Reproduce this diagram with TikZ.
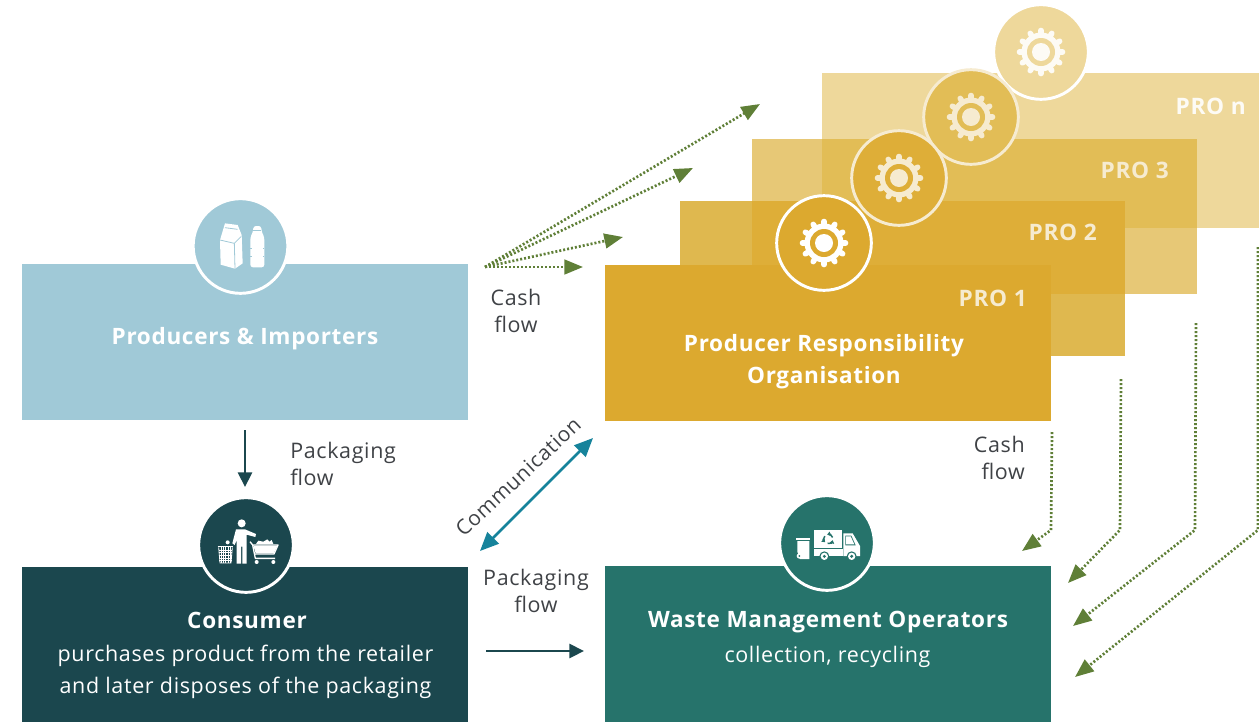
\documentclass[tikz,border=0pt]{standalone}
\usepackage{fontspec}
\setmainfont{Open Sans}[LetterSpace=3]
\usetikzlibrary{arrows.meta}
\definecolor{proc}{HTML}{DCA92F}
\definecolor{prod}{HTML}{A0C9D7}
\definecolor{cons}{HTML}{1B474E}
\definecolor{wast}{HTML}{26736B}
\definecolor{cash}{HTML}{5F7F37}
\definecolor{comm}{HTML}{16839B}
\definecolor{lab}{HTML}{3F4246}
\definecolor{cream}{HTML}{F6EBD0}
\definecolor{pn}{HTML}{EED89B}
\definecolor{pthreew}{HTML}{E7C876}
\definecolor{pthreen}{HTML}{E2BD56}
\definecolor{ptwow}{HTML}{DFB84F}
\definecolor{ptwot}{HTML}{DEAE38}
\tikzset{
 x=.75pt,y=-.75pt,
 box/.style={anchor=north west,inner sep=0,outer sep=0},
 badge/.style={circle,inner sep=0,minimum size=71pt,draw=white,line width=2.2pt},
 cashflow/.style={draw=cash,line width=2pt,dash pattern=on 1.5pt off 1.5pt,-{Triangle[length=14pt,width=11pt]}},
 goods/.style={draw=cons,line width=2.2pt,-{Triangle[length=11pt,width=10.5pt]}},
 commflow/.style={draw=comm,line width=2pt,{Triangle[length=14pt,width=12pt]}-{Triangle[length=14pt,width=12pt]}},
 lbl/.style={text=lab,font=\fontsize{16.1}{20.25}\selectfont,inner sep=0,align=center},
 boxtitle/.style={text=white,font=\fontsize{16.9}{24}\selectfont\bfseries,inner sep=0,align=center},
 boxsub/.style={text=white,font=\fontsize{16.1}{24}\selectfont,inner sep=0,align=center},
 protag/.style={font=\fontsize{17}{20}\selectfont\bfseries,inner sep=0,anchor=east},
}
\newcommand{\rct}[5]{\node[box,fill=#5,minimum width=#3*.75pt,minimum height=#4*.75pt] (#1) at #2 {};}
\newcommand{\geargly}[3]{%
 \begin{scope}[shift={#1}]
 \foreach \a in {0,30,...,330}{\draw[#2,line width=4.2pt,line cap=round] (\a:15) -- (\a:21.5);}
 \fill[#2] (0,0) circle[radius=19.5];
 \fill[#3] (0,0) circle[radius=14];
 \fill[#2] (0,0) circle[radius=9];
 \end{scope}}
\begin{document}
\begin{tikzpicture}
\useasboundingbox (0,0) rectangle (1259,722);
% PRO stack
\rct{pron}{(822,73)}{437}{155}{pn}
\rct{prothree}{(752,139)}{445}{155}{pthreew}
\rct{prothreeov}{(822,139)}{375}{89}{pthreen}
\rct{protwo}{(680,201)}{445}{155}{ptwow}
\rct{protwoov}{(752,201)}{373}{93}{ptwot}
\rct{proone}{(605,265)}{446}{156}{proc}
% other boxes
\rct{prodbox}{(22,264)}{446}{156}{prod}
\rct{consbox}{(22,567)}{446}{155}{cons}
\rct{wastebox}{(605,566)}{446}{156}{wast}
% PRO badges
\node[badge,fill=pn,draw=white] (bn) at (1041,52) {};
\node[badge,fill=pthreen,draw=cream] (b3) at (971,117) {};
\node[badge,fill=ptwot,draw=cream] (b2) at (899,178) {};
\node[badge,fill=proc,draw=white] (b1) at (824,243) {};
\geargly{(bn)}{white!95!proc}{pn}
\geargly{(b3)}{cream}{pthreen}
\geargly{(b2)}{cream}{ptwot}
\geargly{(b1)}{white}{proc}
% other badges
\node[badge,fill=prod] (bprod) at (240.5,246) {};
\node[badge,fill=cons] (bcons) at (246,545) {};
\node[badge,fill=wast] (bwaste) at (827,543) {};
% carton and bottle
\begin{scope}[shift={(170,190)},x=.25pt,y=-.25pt]
 \fill[white] (165,100) -- (203,105) -- (215,135) -- (218,220) -- (195,236) -- (152,224) -- (150,150) -- cycle;
 \draw[prod,line width=.6pt] (195,236) -- (193,160) -- (213,140) (150,150) -- (193,160) (165,113) -- (203,118);
 \fill[white,rounded corners=2pt] (250,108) -- (274,108) -- (274,122) -- (283,142) -- (283,232) -- (241,232) -- (241,142) -- (250,122) -- cycle;
 \draw[prod,line width=.5pt] (250,122) -- (274,122);
 \draw[prod,line width=.3pt] (241,175) -- (245,175) (279,175) -- (283,175) (241,200) -- (245,200) (279,200) -- (283,200);
\end{scope}
% person, bin and cart
\begin{scope}[shift={(180,490)},x=.25pt,y=-.25pt]
 \fill[white] (185,100) circle[radius=12];
 \fill[white] (168,118) -- (195,118) -- (228,132) -- (226,141) -- (200,134) -- (200,221) -- (187,221) -- (187,170) -- (183,170) -- (183,221) -- (170,221) -- (170,150) -- (164,165) -- (157,160) -- cycle;
 \fill[white] (143,157) circle[radius=6];
 \draw[white,line width=.9pt] (113,170) -- (160,170);
 \draw[white,line width=.6pt] (116,172) -- (120,219) -- (153,219) -- (157,172);
 \foreach \i in {123,130,...,151}{\draw[white,line width=.3pt] (\i,172) -- (\i,219);}
 \foreach \j in {180,188,...,212}{\draw[white,line width=.3pt] (117,\j) -- (156,\j);}
 \draw[white,line width=1pt,line join=round] (210,155) -- (218,165) -- (294,165) -- (282,192) -- (226,192) (218,165) -- (226,205) -- (285,205);
 \fill[white] (220,167) -- (292,167) -- (281,190) -- (227,190) -- cycle;
 \fill[white] (228,162) -- (235,152) -- (250,155) -- (262,148) -- (268,155) -- (275,150) -- (280,162) -- cycle;
 \fill[white] (230,216) circle[radius=6] (280,216) circle[radius=6];
\end{scope}
% bin and truck
\begin{scope}[shift={(760,490)},x=.25pt,y=-.25pt]
 \fill[white] (108,143) rectangle (150,150);
 \fill[white] (112,153) -- (148,153) -- (148,207) -- (120,207) -- (112,185) -- cycle;
 \fill[white] (118,198) circle[radius=8];
 \fill[wast] (118,198) circle[radius=3];
 \fill[white] (163,120) rectangle (245,174);
 \fill[white] (163,178) rectangle (250,198);
 \fill[white] (250,130) -- (278,130) -- (300,168) -- (300,198) -- (250,198) -- cycle;
 \fill[wast] (256,137) -- (274,137) -- (287,166) -- (256,166) -- cycle;
 \fill[white] (258,139) -- (272,139) -- (283,163) -- (258,163) -- cycle;
 \fill[wast] (193,199) circle[radius=15] (275,199) circle[radius=15];
 \fill[white] (193,199) circle[radius=11] (275,199) circle[radius=11];
 \fill[wast] (193,199) circle[radius=5] (275,199) circle[radius=5];
 \foreach \a in {20,140,260}{
  \draw[wast,line width=1.1pt,shift={(205,147)},-{Triangle[length=2.4pt,width=3.4pt]}] (\a:3.4pt) arc[start angle=\a,delta angle=85,radius=3.4pt];}
\end{scope}
% texts in boxes
\node[protag,text=white!95!proc] (tn) at (1246,106) {PRO n};
\node[protag,text=cream] (t3) at (1169,170) {PRO 3};
\node[protag,text=cream] (t2) at (1097,232) {PRO 2};
\node[protag,text=cream] (t1) at (1027,298) {PRO 1};
\node[boxtitle] (tprod) at (245,339) {Producers \& Importers};
\node[boxtitle] (tpro) at (824,362) {Producer Responsibility\\Organisation};
\node[boxtitle] (tcons) at (247,620) {Consumer};
\node[boxsub] (scons) at (245.5,672) {purchases product from the retailer\\and later disposes of the packaging};
\node[boxtitle] (twaste) at (828,622) {Waste Management Operators};
\node[boxsub] (swaste) at (827.5,657) {collection, recycling};
% outer labels
\node[lbl] (l1) at (516,311) {Cash\\flow};
\node[lbl,align=right,anchor=east] (l2) at (1025,458) {Cash\\flow};
\node[lbl,align=left,anchor=west] (l3) at (290,464) {Packaging\\flow};
\node[lbl] (l4) at (536,591) {Packaging\\flow};
\node[lbl,rotate=43,font=\fontsize{15.6}{20.25}\selectfont] (l5) at (518,477) {Communication};
% connectors
\coordinate (cs) at (485,267);
\coordinate (ca) at (760,104);
\coordinate (cb) at (693,168);
\coordinate (cc) at (623,237);
\coordinate (cd) at (583,267);
\draw[cashflow] (cs) -- (ca);
\draw[cashflow] (cs) -- (cb);
\draw[cashflow] (cs) -- (cc);
\draw[cashflow] (cs) -- (cd);
\coordinate (ds1) at (1052,432); \coordinate (dm1) at (1051,530); \coordinate (de1) at (1022,551);
\coordinate (ds2) at (1121,379); \coordinate (dm2) at (1120,530); \coordinate (de2) at (1068,583);
\coordinate (ds3) at (1196,323); \coordinate (dm3) at (1195,530); \coordinate (de3) at (1073,626);
\coordinate (ds4) at (1258,247); \coordinate (dm4) at (1258,530); \coordinate (de4) at (1075,677);
\draw[cashflow] (ds1) -- (dm1) -- (de1);
\draw[cashflow] (ds2) -- (dm2) -- (de2);
\draw[cashflow] (ds3) -- (dm3) -- (de3);
\draw[cashflow] (ds4) -- (dm4) -- (de4);
\coordinate (g1) at (245,430); \coordinate (g2) at (245,487);
\coordinate (g3) at (486,651); \coordinate (g4) at (584,651);
\draw[goods] (g1) -- (g2);
\draw[goods] (g3) -- (g4);
\coordinate (k1) at (480,551); \coordinate (k2) at (593,438);
\draw[commflow] (k1) -- (k2);
\end{tikzpicture}
\end{document}
